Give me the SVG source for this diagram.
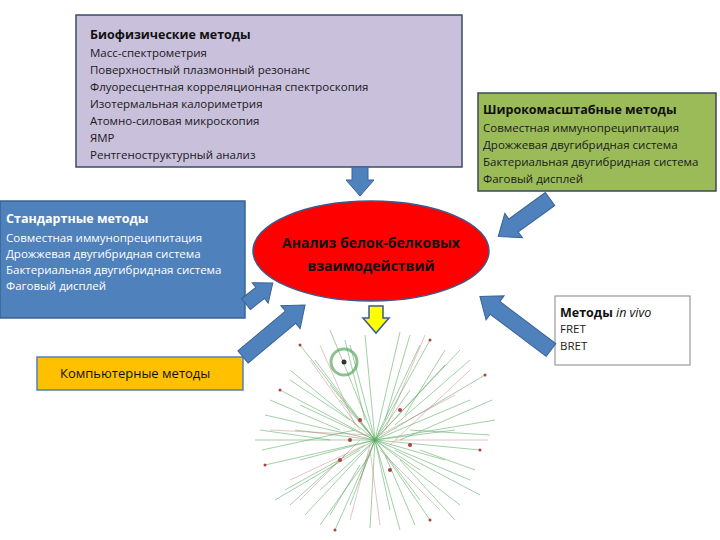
<svg xmlns="http://www.w3.org/2000/svg" width="720" height="540" viewBox="0 0 720 540">
<style>
.t{font-family:"Open Sans","DejaVu Sans",sans-serif;font-size:11.5px;fill:#1a1a1a}
.h{font-family:"Open Sans","DejaVu Sans",sans-serif;font-size:12.5px;font-weight:bold;fill:#111}
.w{fill:#fff}
.ar{fill:#4f81bd;stroke:#3a6494;stroke-width:1}
.net{stroke:#5aa860;stroke-width:0.7;fill:none;opacity:0.8}
.net2{stroke:#c07070;stroke-width:0.6;fill:none;opacity:0.7}
</style>
<rect width="720" height="540" fill="#fff"/>
<g id="biophys">
<rect x="76" y="15" width="386" height="152" fill="#c9c0dc" stroke="#3b4a6b" stroke-width="1.5"/>
<text class="h" x="90" y="39">Биофизические методы</text>
<text class="t" x="90" y="57">Масс-спектрометрия</text>
<text class="t" x="90" y="74">Поверхностный плазмонный резонанс</text>
<text class="t" x="90" y="91">Флуоресцентная корреляционная спектроскопия</text>
<text class="t" x="90" y="108">Изотермальная калориметрия</text>
<text class="t" x="90" y="125">Атомно-силовая микроскопия</text>
<text class="t" x="90" y="142">ЯМР</text>
<text class="t" x="90" y="159">Рентгеноструктурный анализ</text>
</g>
<g id="wide">
<rect x="478" y="93" width="238" height="98" fill="#9bbb59" stroke="#3b4a5b" stroke-width="1.5"/>
<text class="h" x="483" y="114">Широкомасштабные методы</text>
<text class="t" x="483" y="132">Совместная иммунопреципитация</text>
<text class="t" x="483" y="149">Дрожжевая двугибридная система</text>
<text class="t" x="483" y="166">Бактериальная двугибридная система</text>
<text class="t" x="483" y="183">Фаговый дисплей</text>
</g>
<g id="standard">
<rect x="0" y="201" width="245" height="117" fill="#4f81bd" stroke="#3a6494" stroke-width="1.5"/>
<text class="h w" x="6" y="223">Стандартные методы</text>
<text class="t w" x="6" y="242">Совместная иммунопреципитация</text>
<text class="t w" x="6" y="258">Дрожжевая двугибридная система</text>
<text class="t w" x="6" y="274">Бактериальная двугибридная система</text>
<text class="t w" x="6" y="290">Фаговый дисплей</text>
</g>
<g id="computer">
<rect x="37" y="357" width="206" height="33" fill="#ffc000" stroke="#4f81bd" stroke-width="1.5"/>
<text class="h" x="60" y="378" style="font-weight:normal;font-size:13px">Компьютерные методы</text>
</g>
<g id="invivo">
<rect x="555" y="296" width="135" height="69" fill="#fff" stroke="#999" stroke-width="1.2"/>
<text class="h" x="560" y="317">Методы <tspan font-style="italic" font-weight="normal">in vivo</tspan></text>
<text class="t" x="560" y="333">FRET</text>
<text class="t" x="560" y="350">BRET</text>
</g>
<g id="center">
<ellipse cx="371" cy="251" rx="118" ry="50" fill="#ff0000" stroke="#3b5a8a" stroke-width="1.5"/>
<text class="h" x="371" y="248" text-anchor="middle" style="font-size:14px">Анализ белок-белковых</text>
<text class="h" x="371" y="271" text-anchor="middle" style="font-size:14px">взаимодействий</text>
</g>
<g id="connectors">
<polygon class="ar" transform="translate(360,167) rotate(90)" points="0,-8 13,-8 13,-14 29,0 13,14 13,8 0,8"/>
<polygon class="ar" transform="translate(550,199) rotate(144)" points="0,-8 45,-8 45,-15 64,0 45,15 45,8 0,8"/>
<polygon class="ar" transform="translate(551,350) rotate(217)" points="0,-8 70,-8 70,-15 89,0 70,15 70,8 0,8"/>
<polygon class="ar" transform="translate(246,304) rotate(-38)" points="0,-7 18,-7 18,-13 34,0 18,13 18,7 0,7"/>
<polygon class="ar" transform="translate(243,357) rotate(-40)" points="0,-8 62,-8 62,-15 81,0 62,15 62,8 0,8"/>
<polygon transform="translate(376,306) rotate(90)" points="0,-7 12,-7 12,-13 27,0 12,13 12,7 0,7" fill="#ffff00" stroke="#3a5a9a" stroke-width="1.5"/>
</g>
<g id="network">
<path class="net" d="M375 440L300 345M375 440L330 330M375 440L365 335M375 440L400 332M375 440L430 340M375 440L460 350M375 440L485 375M375 440L470 400M375 440L495 420M375 440L480 450M375 440L470 480M375 440L460 505M375 440L430 520M375 440L400 530M375 440L370 528M375 440L335 530M375 440L305 515M375 440L285 490M375 440L265 465M375 440L255 440M375 440L265 415M375 440L280 390M375 440L290 370M375 440L315 360M375 440L350 345M375 440L420 345M375 440L445 365M375 440L455 430M375 440L445 460M375 440L420 500M375 440L390 510M375 440L350 505M375 440L320 490M375 440L300 460M375 440L295 430M375 440L300 405M375 440L330 385M375 440L340 400M375 440L410 390M375 440L420 470M375 440L360 480"/>
<path class="net" d="M350 420L290 380M355 430L262 450M360 450L275 500M370 455L320 525M385 455L415 525M395 450L480 495M400 440L492 400M395 425L470 360M385 420L410 335M365 420L345 340M340 430L270 400M345 455L290 505M400 460L455 520M410 430L490 435M405 415L445 350M330 440L260 430M420 450L475 470M360 465L330 515"/>
<path class="net2" d="M360 430L310 360M390 445L470 370M380 450L440 510M365 445L290 480M370 435L270 430M385 430L425 335M370 450L380 525M360 440L300 500M395 440L488 440M355 425L320 345M380 435L455 395M370 445L350 520"/>
<circle cx="344" cy="362" r="13" fill="none" stroke="#5aa860" stroke-width="3" opacity="0.7"/>
<circle cx="344" cy="362" r="2.5" fill="#333"/>
<g fill="#b04040">
<circle cx="300" cy="345" r="1.5"/><circle cx="430" cy="340" r="1.5"/><circle cx="485" cy="375" r="1.5"/><circle cx="480" cy="450" r="1.5"/><circle cx="430" cy="520" r="1.5"/><circle cx="335" cy="530" r="1.5"/><circle cx="265" cy="465" r="1.5"/><circle cx="280" cy="390" r="1.5"/><circle cx="400" cy="410" r="2"/><circle cx="360" cy="420" r="2"/><circle cx="390" cy="470" r="2"/><circle cx="340" cy="460" r="2"/><circle cx="410" cy="445" r="2"/><circle cx="350" cy="440" r="2"/>
</g>
</g>
</svg>
